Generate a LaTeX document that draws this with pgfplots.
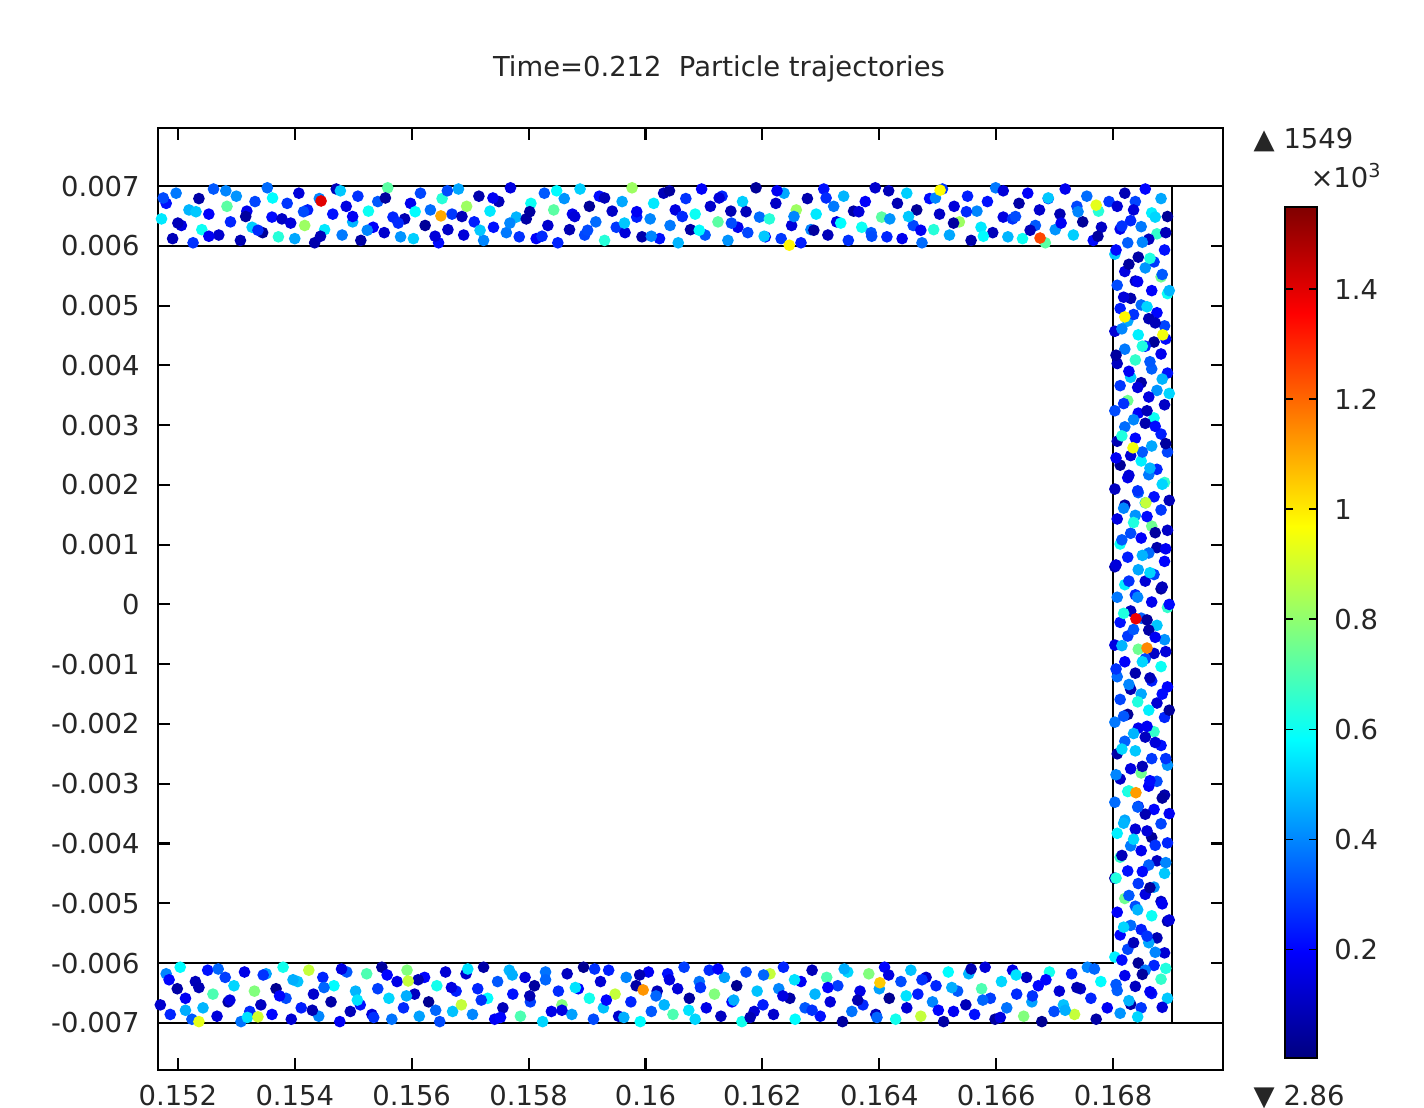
\documentclass[border=0pt]{standalone}
\usepackage{fontspec}
\setmainfont{DejaVu Sans}
\usepackage{pgfplots}
\pgfplotsset{compat=1.18}
\newcommand\lbl{\fontsize{7.8}{9}\selectfont}
\begin{document}
\begin{tikzpicture}
\useasboundingbox (0,0) rectangle (14.24,11.07);
\begin{axis}[
  at={(1.58cm,0.37cm)}, anchor=south west,
  scale only axis, width=10.65cm, height=9.42cm,
  xmin=0.15166, xmax=0.16988, ymin=-0.00779, ymax=0.00797,
  xtick={0.152,0.154,0.156,0.158,0.16,0.162,0.164,0.166,0.168},
  xticklabels={0.152,0.154,0.156,0.158,0.16,0.162,0.164,0.166,0.168},
  ytick={-0.007,-0.006,-0.005,-0.004,-0.003,-0.002,-0.001,0,0.001,0.002,0.003,0.004,0.005,0.006,0.007},
  yticklabels={-0.007,-0.006,-0.005,-0.004,-0.003,-0.002,-0.001,0,0.001,0.002,0.003,0.004,0.005,0.006,0.007},
  scaled ticks=false,
  xtick pos=both, ytick pos=both,
  tick align=inside, major tick length=1.2mm,
  axis line style={line width=0.6pt},
  tick style={black, line width=0.6pt},
  ticklabel style={font=\lbl, text=black!85},
  yticklabel style={xshift=-0.6mm},
  xticklabel style={yshift=-0.3mm},
  colormap/jet,
  point meta min=0.00286, point meta max=1.549,
  colorbar,
  colorbar style={
    at={(parent axis.north east)}, anchor=north west,
    xshift=0.32cm, yshift=-0.79cm,
    scale only axis, width=0.32cm, height=8.51cm,
    ytick={0.2,0.4,0.6,0.8,1,1.2,1.4},
    yticklabels={0.2,0.4,0.6,0.8,1,1.2,1.4},
    ytick pos=both, yticklabel pos=right,
    tick align=inside, major tick length=0.8mm,
    tick style={black, line width=0.5pt},
    axis line style={line width=0.6pt},
    yticklabel style={font=\lbl, text=black!85, xshift=0.5mm},
  },
]
% channel walls
\addplot[black, line width=0.6pt] coordinates {(0.15166,0.007) (0.16988,0.007)};
\addplot[black, line width=0.6pt] coordinates {(0.15166,-0.007) (0.16988,-0.007)};
\addplot[black, line width=0.6pt] coordinates {(0.169,0.007) (0.169,-0.007)};
\addplot[black, line width=0.6pt] coordinates {(0.15166,0.006) (0.168,0.006) (0.168,-0.006) (0.15166,-0.006)};

\pgfplotsset{particles/.style={scatter, only marks, mark=*, mark size=1.45pt,
  scatter/use mapped color={draw=mapped color, fill=mapped color}, point meta=explicit}}

% upper channel
\addplot[particles] coordinates {
(0.15172,0.00645) [0.55] (0.15180,0.00671) [0.22] (0.15191,0.00612) [0.09] (0.15197,0.00688) [0.38] (0.15206,0.00634) [0.15]
(0.15219,0.00660) [0.47] (0.15226,0.00605) [0.27] (0.15236,0.00679) [0.06] (0.15241,0.00627) [0.60] (0.15253,0.00653) [0.19]
(0.15261,0.00695) [0.33] (0.15270,0.00618) [0.12] (0.15284,0.00666) [0.72] (0.15290,0.00640) [0.25] (0.15300,0.00683) [0.42]
(0.15307,0.00609) [0.08] (0.15318,0.00658) [0.17] (0.15327,0.00631) [0.51] (0.15332,0.00674) [0.30] (0.15345,0.00622) [0.04]
(0.15353,0.00697) [0.36] (0.15361,0.00648) [0.21] (0.15372,0.00615) [0.64] (0.15378,0.00645) [0.11] (0.15387,0.00671) [0.28]
(0.15400,0.00612) [0.45] (0.15407,0.00688) [0.14] (0.15417,0.00634) [0.82] (0.15422,0.00660) [0.24] (0.15434,0.00605) [0.07]
(0.15442,0.00679) [0.40] (0.15451,0.00627) [0.55] (0.15465,0.00653) [0.22] (0.15471,0.00695) [0.09] (0.15481,0.00618) [0.38]
(0.15488,0.00666) [0.15] (0.15499,0.00640) [0.47] (0.15508,0.00683) [0.27] (0.15513,0.00609) [0.06] (0.15526,0.00658) [0.60]
(0.15534,0.00631) [0.19] (0.15542,0.00674) [0.33] (0.15553,0.00622) [0.12] (0.15559,0.00697) [0.72] (0.15568,0.00648) [0.25]
(0.15581,0.00615) [0.42] (0.15588,0.00645) [0.08] (0.15598,0.00671) [0.17] (0.15603,0.00612) [0.51] (0.15615,0.00688) [0.30]
(0.15623,0.00634) [0.04] (0.15632,0.00660) [0.36] (0.15646,0.00605) [0.21] (0.15652,0.00679) [0.64] (0.15662,0.00627) [0.11]
(0.15669,0.00653) [0.28] (0.15680,0.00695) [0.45] (0.15689,0.00618) [0.14] (0.15694,0.00666) [0.82] (0.15707,0.00640) [0.24]
(0.15715,0.00683) [0.07] (0.15723,0.00609) [0.40] (0.15734,0.00658) [0.55] (0.15740,0.00631) [0.22] (0.15749,0.00674) [0.09]
(0.15762,0.00622) [0.38] (0.15769,0.00697) [0.15] (0.15779,0.00648) [0.47] (0.15784,0.00615) [0.27] (0.15796,0.00645) [0.06]
(0.15804,0.00671) [0.60] (0.15813,0.00612) [0.19] (0.15827,0.00688) [0.33] (0.15833,0.00634) [0.12] (0.15843,0.00660) [0.72]
(0.15850,0.00605) [0.25] (0.15861,0.00679) [0.42] (0.15870,0.00627) [0.08] (0.15875,0.00653) [0.17] (0.15888,0.00695) [0.51]
(0.15896,0.00618) [0.30] (0.15904,0.00666) [0.04] (0.15915,0.00640) [0.36] (0.15921,0.00683) [0.21] (0.15930,0.00609) [0.64]
(0.15943,0.00658) [0.11] (0.15950,0.00631) [0.28] (0.15960,0.00674) [0.45] (0.15965,0.00622) [0.14] (0.15977,0.00697) [0.82]
(0.15985,0.00648) [0.24] (0.15994,0.00615) [0.07] (0.16008,0.00645) [0.40] (0.16014,0.00671) [0.55] (0.16024,0.00612) [0.22]
(0.16031,0.00688) [0.09] (0.16042,0.00634) [0.38] (0.16051,0.00660) [0.15] (0.16056,0.00605) [0.47] (0.16069,0.00679) [0.27]
(0.16077,0.00627) [0.06] (0.16085,0.00653) [0.60] (0.16096,0.00695) [0.19] (0.16102,0.00618) [0.33] (0.16111,0.00666) [0.12]
(0.16124,0.00640) [0.72] (0.16131,0.00683) [0.25] (0.16141,0.00609) [0.42] (0.16146,0.00658) [0.08] (0.16158,0.00631) [0.17]
(0.16166,0.00674) [0.51] (0.16175,0.00622) [0.30] (0.16189,0.00697) [0.04] (0.16195,0.00648) [0.36] (0.16205,0.00615) [0.21]
(0.16212,0.00645) [0.64] (0.16223,0.00671) [0.11] (0.16232,0.00612) [0.28] (0.16237,0.00688) [0.45] (0.16250,0.00634) [0.14]
(0.16258,0.00660) [0.82] (0.16266,0.00605) [0.24] (0.16277,0.00679) [0.07] (0.16283,0.00627) [0.40] (0.16292,0.00653) [0.55]
(0.16305,0.00695) [0.22] (0.16312,0.00618) [0.09] (0.16322,0.00666) [0.38] (0.16327,0.00640) [0.15] (0.16339,0.00683) [0.47]
(0.16347,0.00609) [0.27] (0.16356,0.00658) [0.06] (0.16370,0.00631) [0.60] (0.16376,0.00674) [0.19] (0.16386,0.00622) [0.33]
(0.16393,0.00697) [0.12] (0.16404,0.00648) [0.72] (0.16413,0.00615) [0.25] (0.16418,0.00645) [0.42] (0.16431,0.00671) [0.08]
(0.16439,0.00612) [0.17] (0.16447,0.00688) [0.51] (0.16458,0.00634) [0.30] (0.16464,0.00660) [0.04] (0.16473,0.00605) [0.36]
(0.16486,0.00679) [0.21] (0.16493,0.00627) [0.64] (0.16503,0.00653) [0.11] (0.16508,0.00695) [0.28] (0.16520,0.00618) [0.45]
(0.16528,0.00666) [0.14] (0.16537,0.00640) [0.82] (0.16551,0.00683) [0.24] (0.16557,0.00609) [0.07] (0.16567,0.00658) [0.40]
(0.16574,0.00631) [0.55] (0.16585,0.00674) [0.22] (0.16594,0.00622) [0.09] (0.16599,0.00697) [0.38] (0.16612,0.00648) [0.15]
(0.16620,0.00615) [0.47] (0.16628,0.00645) [0.27] (0.16639,0.00671) [0.06] (0.16645,0.00612) [0.60] (0.16654,0.00688) [0.19]
(0.16667,0.00634) [0.33] (0.16674,0.00660) [0.12] (0.16684,0.00605) [0.72] (0.16689,0.00679) [0.25] (0.16701,0.00627) [0.42]
(0.16709,0.00653) [0.08] (0.16718,0.00695) [0.17] (0.16732,0.00618) [0.51] (0.16738,0.00666) [0.30] (0.16748,0.00640) [0.04]
(0.16755,0.00683) [0.36] (0.16766,0.00609) [0.21] (0.16775,0.00658) [0.64] (0.16780,0.00631) [0.11] (0.16793,0.00674) [0.28]
(0.15175,0.00680) [0.31] (0.15200,0.00638) [0.09] (0.15231,0.00657) [0.50] (0.15253,0.00616) [0.18] (0.15282,0.00692) [0.40]
(0.15316,0.00649) [0.05] (0.15337,0.00626) [0.26] (0.15362,0.00680) [0.58] (0.15393,0.00638) [0.14] (0.15415,0.00657) [0.31]
(0.15444,0.00616) [0.09] (0.15478,0.00692) [0.50] (0.15499,0.00649) [0.18] (0.15524,0.00626) [0.40] (0.15555,0.00680) [0.05]
(0.15577,0.00638) [0.26] (0.15606,0.00657) [0.58] (0.15640,0.00616) [0.14] (0.15661,0.00692) [0.31] (0.15686,0.00649) [0.09]
(0.15717,0.00626) [0.50] (0.15739,0.00680) [0.18] (0.15768,0.00638) [0.40] (0.15802,0.00657) [0.05] (0.15823,0.00616) [0.26]
(0.15848,0.00692) [0.58] (0.15879,0.00649) [0.14] (0.15901,0.00626) [0.31] (0.15930,0.00680) [0.09] (0.15964,0.00638) [0.50]
(0.15985,0.00657) [0.18] (0.16010,0.00616) [0.40] (0.16041,0.00692) [0.05] (0.16063,0.00649) [0.26] (0.16092,0.00626) [0.58]
(0.16126,0.00680) [0.14] (0.16147,0.00638) [0.31] (0.16172,0.00657) [0.09] (0.16203,0.00616) [0.50] (0.16225,0.00692) [0.18]
(0.16254,0.00649) [0.40] (0.16288,0.00626) [0.05] (0.16309,0.00680) [0.26] (0.16334,0.00638) [0.58] (0.16365,0.00657) [0.14]
(0.16387,0.00616) [0.31] (0.16416,0.00692) [0.09] (0.16450,0.00649) [0.50] (0.16471,0.00626) [0.18] (0.16496,0.00680) [0.40]
(0.16527,0.00638) [0.05] (0.16549,0.00657) [0.26] (0.16578,0.00616) [0.58] (0.16612,0.00692) [0.14] (0.16633,0.00649) [0.31]
(0.16658,0.00626) [0.09] (0.16689,0.00680) [0.50] (0.16711,0.00638) [0.18] (0.16740,0.00657) [0.40] (0.16774,0.00616) [0.05]
};

% lower channel
\addplot[particles] coordinates {
(0.15170,-0.00670) [0.12] (0.15180,-0.00618) [0.40] (0.15187,-0.00686) [0.25] (0.15199,-0.00643) [0.06] (0.15204,-0.00607) [0.58]
(0.15213,-0.00659) [0.18] (0.15224,-0.00694) [0.33] (0.15230,-0.00631) [0.09] (0.15243,-0.00675) [0.47] (0.15251,-0.00612) [0.22]
(0.15260,-0.00652) [0.70] (0.15267,-0.00689) [0.14] (0.15281,-0.00624) [0.29] (0.15286,-0.00665) [0.05] (0.15296,-0.00638) [0.52]
(0.15308,-0.00698) [0.37] (0.15314,-0.00615) [0.16] (0.15323,-0.00681) [0.26] (0.15331,-0.00647) [0.78] (0.15342,-0.00670) [0.10]
(0.15351,-0.00618) [0.44] (0.15361,-0.00686) [0.20] (0.15368,-0.00643) [0.03] (0.15380,-0.00607) [0.61] (0.15385,-0.00659) [0.31]
(0.15394,-0.00694) [0.13] (0.15405,-0.00631) [0.49] (0.15411,-0.00675) [0.24] (0.15424,-0.00612) [0.88] (0.15432,-0.00652) [0.12]
(0.15441,-0.00689) [0.40] (0.15448,-0.00624) [0.25] (0.15462,-0.00665) [0.06] (0.15467,-0.00638) [0.58] (0.15477,-0.00698) [0.18]
(0.15489,-0.00615) [0.33] (0.15495,-0.00681) [0.09] (0.15504,-0.00647) [0.47] (0.15512,-0.00670) [0.22] (0.15523,-0.00618) [0.70]
(0.15532,-0.00686) [0.14] (0.15542,-0.00643) [0.29] (0.15549,-0.00607) [0.05] (0.15561,-0.00659) [0.52] (0.15566,-0.00694) [0.37]
(0.15575,-0.00631) [0.16] (0.15586,-0.00675) [0.26] (0.15592,-0.00612) [0.78] (0.15605,-0.00652) [0.10] (0.15613,-0.00689) [0.44]
(0.15622,-0.00624) [0.20] (0.15629,-0.00665) [0.03] (0.15643,-0.00638) [0.61] (0.15648,-0.00698) [0.31] (0.15658,-0.00615) [0.13]
(0.15670,-0.00681) [0.49] (0.15676,-0.00647) [0.24] (0.15685,-0.00670) [0.88] (0.15693,-0.00618) [0.12] (0.15704,-0.00686) [0.40]
(0.15713,-0.00643) [0.25] (0.15723,-0.00607) [0.06] (0.15730,-0.00659) [0.58] (0.15742,-0.00694) [0.18] (0.15747,-0.00631) [0.33]
(0.15756,-0.00675) [0.09] (0.15767,-0.00612) [0.47] (0.15773,-0.00652) [0.22] (0.15786,-0.00689) [0.70] (0.15794,-0.00624) [0.14]
(0.15803,-0.00665) [0.29] (0.15810,-0.00638) [0.05] (0.15824,-0.00698) [0.52] (0.15829,-0.00615) [0.37] (0.15839,-0.00681) [0.16]
(0.15851,-0.00647) [0.26] (0.15857,-0.00670) [0.78] (0.15866,-0.00618) [0.10] (0.15874,-0.00686) [0.44] (0.15885,-0.00643) [0.20]
(0.15894,-0.00607) [0.03] (0.15904,-0.00659) [0.61] (0.15911,-0.00694) [0.31] (0.15923,-0.00631) [0.13] (0.15928,-0.00675) [0.49]
(0.15937,-0.00612) [0.24] (0.15948,-0.00652) [0.88] (0.15954,-0.00689) [0.12] (0.15967,-0.00624) [0.40] (0.15975,-0.00665) [0.25]
(0.15984,-0.00638) [0.06] (0.15991,-0.00698) [0.58] (0.16005,-0.00615) [0.18] (0.16010,-0.00681) [0.33] (0.16020,-0.00647) [0.09]
(0.16032,-0.00670) [0.47] (0.16038,-0.00618) [0.22] (0.16047,-0.00686) [0.70] (0.16055,-0.00643) [0.14] (0.16066,-0.00607) [0.29]
(0.16075,-0.00659) [0.05] (0.16085,-0.00694) [0.52] (0.16092,-0.00631) [0.37] (0.16104,-0.00675) [0.16] (0.16109,-0.00612) [0.26]
(0.16118,-0.00652) [0.78] (0.16129,-0.00689) [0.10] (0.16135,-0.00624) [0.44] (0.16148,-0.00665) [0.20] (0.16156,-0.00638) [0.03]
(0.16165,-0.00698) [0.61] (0.16172,-0.00615) [0.31] (0.16186,-0.00681) [0.13] (0.16191,-0.00647) [0.49] (0.16201,-0.00670) [0.24]
(0.16213,-0.00618) [0.88] (0.16219,-0.00686) [0.12] (0.16228,-0.00643) [0.40] (0.16236,-0.00607) [0.25] (0.16247,-0.00659) [0.06]
(0.16256,-0.00694) [0.58] (0.16266,-0.00631) [0.18] (0.16273,-0.00675) [0.33] (0.16285,-0.00612) [0.09] (0.16290,-0.00652) [0.47]
(0.16299,-0.00689) [0.22] (0.16310,-0.00624) [0.70] (0.16316,-0.00665) [0.14] (0.16329,-0.00638) [0.29] (0.16337,-0.00698) [0.05]
(0.16346,-0.00615) [0.52] (0.16353,-0.00681) [0.37] (0.16367,-0.00647) [0.16] (0.16372,-0.00670) [0.26] (0.16382,-0.00618) [0.78]
(0.16394,-0.00686) [0.10] (0.16400,-0.00643) [0.44] (0.16409,-0.00607) [0.20] (0.16417,-0.00659) [0.03] (0.16428,-0.00694) [0.61]
(0.16437,-0.00631) [0.31] (0.16447,-0.00675) [0.13] (0.16454,-0.00612) [0.49] (0.16466,-0.00652) [0.24] (0.16471,-0.00689) [0.88]
(0.16480,-0.00624) [0.12] (0.16491,-0.00665) [0.40] (0.16497,-0.00638) [0.25] (0.16510,-0.00698) [0.06] (0.16518,-0.00615) [0.58]
(0.16527,-0.00681) [0.18] (0.16534,-0.00647) [0.33] (0.16548,-0.00670) [0.09] (0.16553,-0.00618) [0.47] (0.16563,-0.00686) [0.22]
(0.16575,-0.00643) [0.70] (0.16581,-0.00607) [0.14] (0.16590,-0.00659) [0.29] (0.16598,-0.00694) [0.05] (0.16609,-0.00631) [0.52]
(0.16618,-0.00675) [0.37] (0.16628,-0.00612) [0.16] (0.16635,-0.00652) [0.26] (0.16647,-0.00689) [0.78] (0.16652,-0.00624) [0.10]
(0.16661,-0.00665) [0.44] (0.16672,-0.00638) [0.20] (0.16678,-0.00698) [0.03] (0.16691,-0.00615) [0.61] (0.16699,-0.00681) [0.31]
(0.16708,-0.00647) [0.13] (0.16715,-0.00670) [0.49] (0.16729,-0.00618) [0.24] (0.16734,-0.00686) [0.88] (0.16744,-0.00643) [0.12]
(0.16756,-0.00607) [0.40] (0.16762,-0.00659) [0.25] (0.16771,-0.00694) [0.06] (0.16779,-0.00631) [0.58] (0.16790,-0.00675) [0.18]
(0.15185,-0.00628) [0.20] (0.15213,-0.00679) [0.46] (0.15236,-0.00641) [0.08] (0.15269,-0.00610) [0.35] (0.15289,-0.00662) [0.15]
(0.15319,-0.00691) [0.54] (0.15346,-0.00620) [0.27] (0.15374,-0.00655) [0.20] (0.15397,-0.00628) [0.46] (0.15430,-0.00679) [0.08]
(0.15450,-0.00641) [0.35] (0.15480,-0.00610) [0.15] (0.15507,-0.00662) [0.54] (0.15535,-0.00691) [0.27] (0.15558,-0.00620) [0.20]
(0.15591,-0.00655) [0.46] (0.15611,-0.00628) [0.08] (0.15641,-0.00679) [0.35] (0.15668,-0.00641) [0.15] (0.15696,-0.00610) [0.54]
(0.15719,-0.00662) [0.27] (0.15752,-0.00691) [0.20] (0.15772,-0.00620) [0.46] (0.15802,-0.00655) [0.08] (0.15829,-0.00628) [0.35]
(0.15857,-0.00679) [0.15] (0.15880,-0.00641) [0.54] (0.15913,-0.00610) [0.27] (0.15933,-0.00662) [0.20] (0.15963,-0.00691) [0.46]
(0.15990,-0.00620) [0.08] (0.16018,-0.00655) [0.35] (0.16041,-0.00628) [0.15] (0.16074,-0.00679) [0.54] (0.16094,-0.00641) [0.27]
(0.16124,-0.00610) [0.20] (0.16151,-0.00662) [0.46] (0.16179,-0.00691) [0.08] (0.16202,-0.00620) [0.35] (0.16235,-0.00655) [0.15]
(0.16255,-0.00628) [0.54] (0.16285,-0.00679) [0.27] (0.16312,-0.00641) [0.20] (0.16340,-0.00610) [0.46] (0.16363,-0.00662) [0.08]
(0.16396,-0.00691) [0.35] (0.16416,-0.00620) [0.15] (0.16446,-0.00655) [0.54] (0.16473,-0.00628) [0.27] (0.16501,-0.00679) [0.20]
(0.16524,-0.00641) [0.46] (0.16557,-0.00610) [0.08] (0.16577,-0.00662) [0.35] (0.16607,-0.00691) [0.15] (0.16634,-0.00620) [0.54]
(0.16662,-0.00655) [0.27] (0.16685,-0.00628) [0.20] (0.16718,-0.00679) [0.46] (0.16738,-0.00641) [0.08] (0.16768,-0.00610) [0.35]
};

% right channel
\addplot[particles] coordinates {
(0.16855,0.00695) [0.20] (0.16820,0.00688) [0.08] (0.16882,0.00679) [0.45] (0.16838,0.00674) [0.30] (0.16807,0.00666) [0.13]
(0.16866,0.00655) [0.56] (0.16893,0.00649) [0.04] (0.16830,0.00642) [0.25] (0.16848,0.00632) [0.38] (0.16812,0.00628) [0.17]
(0.16875,0.00620) [0.66] (0.16861,0.00611) [0.10] (0.16825,0.00605) [0.34] (0.16888,0.00593) [0.22] (0.16803,0.00586) [0.50]
(0.16843,0.00581) [0.06] (0.16870,0.00573) [0.28] (0.16855,0.00563) [0.42] (0.16820,0.00557) [0.15] (0.16882,0.00548) [0.75]
(0.16838,0.00541) [0.11] (0.16807,0.00534) [0.31] (0.16866,0.00525) [0.19] (0.16893,0.00520) [0.60] (0.16830,0.00512) [0.07]
(0.16848,0.00501) [0.36] (0.16812,0.00495) [0.24] (0.16875,0.00488) [0.20] (0.16861,0.00478) [0.08] (0.16825,0.00474) [0.45]
(0.16888,0.00466) [0.30] (0.16803,0.00457) [0.13] (0.16843,0.00451) [0.56] (0.16870,0.00439) [0.04] (0.16855,0.00432) [0.25]
(0.16820,0.00427) [0.38] (0.16882,0.00419) [0.17] (0.16838,0.00409) [0.66] (0.16807,0.00403) [0.10] (0.16866,0.00394) [0.34]
(0.16893,0.00387) [0.22] (0.16830,0.00380) [0.50] (0.16848,0.00371) [0.06] (0.16812,0.00366) [0.28] (0.16875,0.00358) [0.42]
(0.16861,0.00347) [0.15] (0.16825,0.00341) [0.75] (0.16888,0.00334) [0.11] (0.16803,0.00324) [0.31] (0.16843,0.00320) [0.19]
(0.16870,0.00312) [0.60] (0.16855,0.00303) [0.07] (0.16820,0.00297) [0.36] (0.16882,0.00285) [0.24] (0.16838,0.00278) [0.20]
(0.16807,0.00273) [0.08] (0.16866,0.00265) [0.45] (0.16893,0.00255) [0.30] (0.16830,0.00249) [0.13] (0.16848,0.00240) [0.56]
(0.16812,0.00233) [0.04] (0.16875,0.00226) [0.25] (0.16861,0.00217) [0.38] (0.16825,0.00212) [0.17] (0.16888,0.00204) [0.66]
(0.16803,0.00193) [0.10] (0.16843,0.00187) [0.34] (0.16870,0.00180) [0.22] (0.16855,0.00170) [0.50] (0.16820,0.00166) [0.06]
(0.16882,0.00158) [0.28] (0.16838,0.00149) [0.42] (0.16807,0.00143) [0.15] (0.16866,0.00131) [0.75] (0.16893,0.00124) [0.11]
(0.16830,0.00119) [0.31] (0.16848,0.00111) [0.19] (0.16812,0.00101) [0.60] (0.16875,0.00095) [0.07] (0.16861,0.00086) [0.36]
(0.16825,0.00079) [0.24] (0.16888,0.00072) [0.20] (0.16803,0.00063) [0.08] (0.16843,0.00058) [0.45] (0.16870,0.00050) [0.30]
(0.16855,0.00039) [0.13] (0.16820,0.00033) [0.56] (0.16882,0.00026) [0.04] (0.16838,0.00016) [0.25] (0.16807,0.00012) [0.38]
(0.16866,0.00004) [0.17] (0.16893,-0.00005) [0.66] (0.16830,-0.00011) [0.10] (0.16848,-0.00023) [0.34] (0.16812,-0.00030) [0.22]
(0.16875,-0.00035) [0.50] (0.16861,-0.00043) [0.06] (0.16825,-0.00053) [0.28] (0.16888,-0.00059) [0.42] (0.16803,-0.00068) [0.15]
(0.16843,-0.00075) [0.75] (0.16870,-0.00082) [0.11] (0.16855,-0.00091) [0.31] (0.16820,-0.00096) [0.19] (0.16882,-0.00104) [0.60]
(0.16838,-0.00115) [0.07] (0.16807,-0.00121) [0.36] (0.16866,-0.00128) [0.24] (0.16893,-0.00138) [0.20] (0.16830,-0.00142) [0.08]
(0.16848,-0.00150) [0.45] (0.16812,-0.00159) [0.30] (0.16875,-0.00165) [0.13] (0.16861,-0.00177) [0.56] (0.16825,-0.00184) [0.04]
(0.16888,-0.00189) [0.25] (0.16803,-0.00197) [0.38] (0.16843,-0.00207) [0.17] (0.16870,-0.00213) [0.66] (0.16855,-0.00222) [0.10]
(0.16820,-0.00229) [0.34] (0.16882,-0.00236) [0.22] (0.16838,-0.00245) [0.50] (0.16807,-0.00250) [0.06] (0.16866,-0.00258) [0.28]
(0.16893,-0.00269) [0.42] (0.16830,-0.00275) [0.15] (0.16848,-0.00282) [0.75] (0.16812,-0.00292) [0.11] (0.16875,-0.00296) [0.31]
(0.16861,-0.00304) [0.19] (0.16825,-0.00313) [0.60] (0.16888,-0.00319) [0.07] (0.16803,-0.00331) [0.36] (0.16843,-0.00338) [0.24]
(0.16870,-0.00343) [0.20] (0.16855,-0.00351) [0.08] (0.16820,-0.00361) [0.45] (0.16882,-0.00367) [0.30] (0.16838,-0.00376) [0.13]
(0.16807,-0.00383) [0.56] (0.16866,-0.00390) [0.04] (0.16893,-0.00399) [0.25] (0.16830,-0.00404) [0.38] (0.16848,-0.00412) [0.17]
(0.16812,-0.00423) [0.66] (0.16875,-0.00429) [0.10] (0.16861,-0.00436) [0.34] (0.16825,-0.00446) [0.22] (0.16888,-0.00450) [0.50]
(0.16803,-0.00458) [0.06] (0.16843,-0.00467) [0.28] (0.16870,-0.00473) [0.42] (0.16855,-0.00485) [0.15] (0.16820,-0.00492) [0.75]
(0.16882,-0.00497) [0.11] (0.16838,-0.00505) [0.31] (0.16807,-0.00515) [0.19] (0.16866,-0.00521) [0.60] (0.16893,-0.00530) [0.07]
(0.16830,-0.00537) [0.36] (0.16848,-0.00544) [0.24] (0.16812,-0.00553) [0.20] (0.16875,-0.00558) [0.08] (0.16861,-0.00566) [0.45]
(0.16825,-0.00577) [0.30] (0.16888,-0.00583) [0.13] (0.16803,-0.00590) [0.56] (0.16843,-0.00600) [0.04] (0.16870,-0.00604) [0.25]
(0.16855,-0.00612) [0.38] (0.16820,-0.00621) [0.17] (0.16882,-0.00627) [0.66] (0.16838,-0.00639) [0.10] (0.16807,-0.00646) [0.34]
(0.16866,-0.00651) [0.22] (0.16893,-0.00659) [0.50] (0.16830,-0.00669) [0.06] (0.16848,-0.00675) [0.28] (0.16812,-0.00684) [0.42]
(0.16835,0.00660) [0.14] (0.16872,0.00648) [0.52] (0.16815,0.00633) [0.27] (0.16890,0.00622) [0.09] (0.16850,0.00606) [0.40]
(0.16805,0.00593) [0.21] (0.16863,0.00579) [0.63] (0.16827,0.00569) [0.05] (0.16884,0.00552) [0.33] (0.16842,0.00540) [0.18]
(0.16896,0.00525) [0.47] (0.16818,0.00514) [0.14] (0.16858,0.00498) [0.52] (0.16835,0.00485) [0.27] (0.16872,0.00471) [0.09]
(0.16815,0.00461) [0.40] (0.16890,0.00444) [0.21] (0.16850,0.00432) [0.63] (0.16805,0.00417) [0.05] (0.16863,0.00406) [0.33]
(0.16827,0.00390) [0.18] (0.16884,0.00377) [0.47] (0.16842,0.00363) [0.14] (0.16896,0.00353) [0.52] (0.16818,0.00336) [0.27]
(0.16858,0.00324) [0.09] (0.16835,0.00309) [0.40] (0.16872,0.00298) [0.21] (0.16815,0.00282) [0.63] (0.16890,0.00269) [0.05]
(0.16850,0.00255) [0.33] (0.16805,0.00245) [0.18] (0.16863,0.00228) [0.47] (0.16827,0.00216) [0.14] (0.16884,0.00201) [0.52]
(0.16842,0.00190) [0.27] (0.16896,0.00174) [0.09] (0.16818,0.00161) [0.40] (0.16858,0.00147) [0.21] (0.16835,0.00137) [0.63]
(0.16872,0.00120) [0.05] (0.16815,0.00108) [0.33] (0.16890,0.00093) [0.18] (0.16850,0.00082) [0.47] (0.16805,0.00066) [0.14]
(0.16863,0.00053) [0.52] (0.16827,0.00039) [0.27] (0.16884,0.00029) [0.09] (0.16842,0.00012) [0.40] (0.16896,0.00000) [0.21]
(0.16818,-0.00015) [0.63] (0.16858,-0.00026) [0.05] (0.16835,-0.00042) [0.33] (0.16872,-0.00055) [0.18] (0.16815,-0.00069) [0.47]
(0.16890,-0.00079) [0.14] (0.16850,-0.00096) [0.52] (0.16805,-0.00108) [0.27] (0.16863,-0.00123) [0.09] (0.16827,-0.00134) [0.40]
(0.16884,-0.00150) [0.21] (0.16842,-0.00163) [0.63] (0.16896,-0.00177) [0.05] (0.16818,-0.00187) [0.33] (0.16858,-0.00204) [0.18]
(0.16835,-0.00216) [0.47] (0.16872,-0.00231) [0.14] (0.16815,-0.00242) [0.52] (0.16890,-0.00258) [0.27] (0.16850,-0.00271) [0.09]
(0.16805,-0.00285) [0.40] (0.16863,-0.00295) [0.21] (0.16827,-0.00312) [0.63] (0.16884,-0.00324) [0.05] (0.16842,-0.00339) [0.33]
(0.16896,-0.00350) [0.18] (0.16818,-0.00366) [0.47] (0.16858,-0.00379) [0.14] (0.16835,-0.00393) [0.52] (0.16872,-0.00403) [0.27]
(0.16815,-0.00420) [0.09] (0.16890,-0.00432) [0.40] (0.16850,-0.00447) [0.21] (0.16805,-0.00458) [0.63] (0.16863,-0.00474) [0.05]
(0.16827,-0.00487) [0.33] (0.16884,-0.00501) [0.18] (0.16842,-0.00511) [0.47] (0.16896,-0.00528) [0.14] (0.16818,-0.00540) [0.52]
(0.16858,-0.00555) [0.27] (0.16835,-0.00566) [0.09] (0.16872,-0.00582) [0.40] (0.16815,-0.00595) [0.21] (0.16890,-0.00609) [0.63]
(0.16850,-0.00619) [0.05] (0.16805,-0.00636) [0.33] (0.16863,-0.00648) [0.18] (0.16827,-0.00663) [0.47] (0.16884,-0.00674) [0.14]
(0.16842,-0.00690) [0.52]
};

% the few fast particles
\addplot[particles] coordinates {
(0.15445,0.00675) [1.40] (0.15650,0.00650) [1.10] (0.16675,0.00613) [1.25] (0.16504,0.00693) [0.97]
(0.16246,0.00601) [0.98] (0.16771,0.00668) [0.93] (0.16839,-0.00024) [1.38] (0.16858,-0.00073) [1.15]
(0.16839,-0.00315) [1.12] (0.16834,0.00262) [0.95] (0.16820,0.00481) [0.98] (0.16885,0.00451) [0.95]
(0.16856,0.00170) [0.88] (0.15996,-0.00645) [1.13] (0.16401,-0.00633) [1.05] (0.15236,-0.00698) [0.93]
(0.15337,-0.00690) [0.90] (0.15594,-0.00630) [0.88]
};
\end{axis}
\node[font=\lbl, text=black!85] at (7.19,10.38) {Time=0.212\ \ Particle trajectories};
\node[font=\lbl, text=black!85, anchor=base west, inner sep=0pt] at (12.53,9.59) {▲ 1549};
\node[font=\lbl, text=black!85, anchor=base east, inner sep=0pt] at (13.83,9.20) {×10\textsuperscript{3}};
\node[font=\lbl, text=black!85, anchor=base west, inner sep=0pt] at (12.53,0.02) {▼ 2.86};
\end{tikzpicture}
\end{document}
